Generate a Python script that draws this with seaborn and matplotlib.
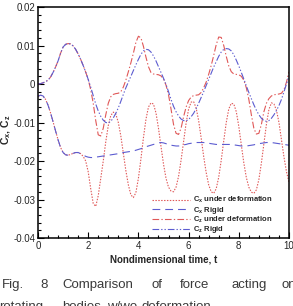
import numpy as np
import pandas as pd
import matplotlib
matplotlib.use("Agg")
import matplotlib.pyplot as plt
import seaborn as sns

# nondimensional time, sampled every 0.1
t = np.round(np.arange(0, 10.05, 0.1), 1)

cx_deform = [
    -0.0032, -0.0029, -0.0031, -0.0040, -0.0055, -0.0075, -0.0098, -0.0122, -0.0145, -0.0165,
    -0.0178, -0.0184, -0.0185, -0.0183, -0.0180, -0.0178, -0.0178, -0.0181, -0.0188, -0.0200,
    -0.0228, -0.0272, -0.0310, -0.0318, -0.0290, -0.0245, -0.0200, -0.0150, -0.0108, -0.0082,
    -0.0073, -0.0078, -0.0100, -0.0135, -0.0180, -0.0225, -0.0262, -0.0288, -0.0295, -0.0282,
    -0.0245, -0.0195, -0.0140, -0.0092, -0.0060, -0.0049, -0.0052, -0.0075, -0.0115, -0.0162,
    -0.0208, -0.0245, -0.0268, -0.0278, -0.0280, -0.0268, -0.0240, -0.0198, -0.0150, -0.0102,
    -0.0065, -0.0047, -0.0046, -0.0062, -0.0095, -0.0140, -0.0188, -0.0230, -0.0262, -0.0280,
    -0.0284, -0.0272, -0.0242, -0.0198, -0.0148, -0.0100, -0.0065, -0.0050, -0.0052, -0.0072,
    -0.0110, -0.0158, -0.0205, -0.0243, -0.0268, -0.0281, -0.0284, -0.0275, -0.0248, -0.0205,
    -0.0155, -0.0105, -0.0066, -0.0049, -0.0052, -0.0068, -0.0100, -0.0145, -0.0190, -0.0228,
    -0.0255,
]

cx_rigid = [
    -0.0032, -0.0029, -0.0031, -0.0040, -0.0055, -0.0075, -0.0098, -0.0122, -0.0145, -0.0165,
    -0.0178, -0.0184, -0.0185, -0.0183, -0.0180, -0.0178, -0.0178, -0.0181, -0.0184, -0.0188,
    -0.0190, -0.0191, -0.0191, -0.0190, -0.0189, -0.0188, -0.0187, -0.0186, -0.0185, -0.0184,
    -0.0183, -0.0182, -0.0181, -0.0180, -0.0178, -0.0177, -0.0176, -0.0175, -0.0174, -0.0172,
    -0.0170, -0.0168, -0.0166, -0.0163, -0.0161, -0.0159, -0.0157, -0.0155, -0.0153, -0.0152,
    -0.0153, -0.0155, -0.0157, -0.0159, -0.0160, -0.0161, -0.0161, -0.0160, -0.0158, -0.0157,
    -0.0155, -0.0154, -0.0153, -0.0152, -0.0152, -0.0152, -0.0152, -0.0153, -0.0154, -0.0155,
    -0.0156, -0.0157, -0.0157, -0.0157, -0.0157, -0.0157, -0.0157, -0.0157, -0.0158, -0.0159,
    -0.0160, -0.0161, -0.0161, -0.0161, -0.0160, -0.0159, -0.0158, -0.0156, -0.0155, -0.0154,
    -0.0153, -0.0152, -0.0152, -0.0152, -0.0153, -0.0154, -0.0155, -0.0156, -0.0157, -0.0158,
    -0.0159,
]

cz_deform = [
    0.0000, 0.0001, 0.0003, 0.0006, 0.0010, 0.0018, 0.0030, 0.0044, 0.0060, 0.0080,
    0.0096, 0.0103, 0.0105, 0.0104, 0.0099, 0.0090, 0.0078, 0.0064, 0.0048, 0.0031,
    0.0012, -0.0015, -0.0050, -0.0095, -0.0132, -0.0135, -0.0115, -0.0080, -0.0050, -0.0033,
    -0.0027, -0.0025, -0.0024, -0.0020, -0.0008, 0.0010, 0.0032, 0.0055, 0.0080, 0.0108,
    0.0124, 0.0120, 0.0098, 0.0070, 0.0045, 0.0030, 0.0026, 0.0025, 0.0024, 0.0021,
    0.0013, -0.0003, -0.0028, -0.0065, -0.0105, -0.0128, -0.0131, -0.0115, -0.0085, -0.0060,
    -0.0043, -0.0034, -0.0030, -0.0029, -0.0028, -0.0022, -0.0010, 0.0005, 0.0025, 0.0048,
    0.0074, 0.0102, 0.0122, 0.0121, 0.0100, 0.0072, 0.0047, 0.0032, 0.0026, 0.0025,
    0.0024, 0.0020, 0.0010, -0.0010, -0.0040, -0.0080, -0.0115, -0.0130, -0.0128, -0.0105,
    -0.0072, -0.0050, -0.0038, -0.0031, -0.0028, -0.0027, -0.0026, -0.0024, -0.0015, 0.0005,
    0.0032,
]

cz_rigid = [
    0.0000, 0.0001, 0.0003, 0.0006, 0.0010, 0.0018, 0.0030, 0.0044, 0.0060, 0.0080,
    0.0096, 0.0103, 0.0105, 0.0104, 0.0099, 0.0090, 0.0078, 0.0064, 0.0048, 0.0031,
    0.0012, -0.0008, -0.0030, -0.0052, -0.0070, -0.0084, -0.0094, -0.0100, -0.0101, -0.0097,
    -0.0088, -0.0076, -0.0062, -0.0045, -0.0027, -0.0010, 0.0005, 0.0020, 0.0035, 0.0050,
    0.0064, 0.0077, 0.0086, 0.0090, 0.0089, 0.0083, 0.0073, 0.0060, 0.0045, 0.0030,
    0.0015, -0.0001, -0.0020, -0.0040, -0.0058, -0.0072, -0.0083, -0.0091, -0.0095, -0.0096,
    -0.0092, -0.0085, -0.0076, -0.0064, -0.0050, -0.0035, -0.0020, -0.0004, 0.0012, 0.0028,
    0.0044, 0.0058, 0.0072, 0.0083, 0.0090, 0.0092, 0.0091, 0.0086, 0.0076, 0.0062,
    0.0047, 0.0030, 0.0013, -0.0005, -0.0022, -0.0038, -0.0054, -0.0068, -0.0080, -0.0089,
    -0.0095, -0.0097, -0.0095, -0.0089, -0.0080, -0.0069, -0.0056, -0.0040, -0.0020, 0.0000,
    0.0022,
]

labels = [r"C$_x$ under deformation", r"C$_x$ Rigid",
          r"C$_z$ under deformation", r"C$_z$ Rigid"]

sns.set_style("ticks")
plt.rcParams["font.family"] = ["Liberation Sans", "DejaVu Sans"]
plt.rcParams["mathtext.fontset"] = "custom"
plt.rcParams["mathtext.rm"] = "Liberation Sans:bold"
plt.rcParams["mathtext.default"] = "rm"

df = pd.DataFrame({"t": t, "cx_d": cx_deform, "cx_r": cx_rigid,
                   "cz_d": cz_deform, "cz_r": cz_rigid})

fig = plt.figure(figsize=(2.93, 3.06), dpi=100)
ax = fig.add_axes([38 / 293, 1 - 238 / 306, 251 / 293, 231 / 306])

red = "#e05858"
blue = "#5c5cd0"
lw = 0.8
sns.lineplot(data=df, x="t", y="cx_d", ax=ax, color=red, lw=lw,
             linestyle=(0, (1.3, 1.3)), label=labels[0])
sns.lineplot(data=df, x="t", y="cx_r", ax=ax, color=blue, lw=lw,
             linestyle=(0, (7, 4.5)), label=labels[1])
sns.lineplot(data=df, x="t", y="cz_d", ax=ax, color=red, lw=lw,
             linestyle=(0, (6, 2, 1.2, 2)), label=labels[2])
sns.lineplot(data=df, x="t", y="cz_r", ax=ax, color=blue, lw=lw,
             linestyle=(0, (6, 1.8, 1.2, 1.8, 1.2, 1.8)), label=labels[3])

ax.set_xlim(0, 10)
ax.set_ylim(-0.04, 0.02)
ax.set_xticks([0, 2, 4, 6, 8, 10])
ax.set_xticklabels(["0", "2", "4", "6", "8", "10"])
ax.set_yticks([-0.04, -0.03, -0.02, -0.01, 0, 0.01, 0.02])
ax.set_yticklabels(["-0.04", "-0.03", "-0.02", "-0.01", "0", "0.01", "0.02"])
ax.set_xticks(np.arange(0, 10.01, 0.4), minor=True)
ax.set_yticks(np.arange(-0.04, 0.0201, 0.002), minor=True)
ax.tick_params(which="both", direction="in", top=False, right=False,
               labelsize=7, pad=2, width=0.8, color="black")
ax.tick_params(which="major", length=4.5)
ax.tick_params(which="minor", length=2.5)
for s in ax.spines.values():
    s.set_linewidth(1.1)
    s.set_color("black")

ax.set_xlabel("Nondimensional time, t", fontsize=7, fontweight="bold", labelpad=3)
ax.set_ylabel(r"C$_x$, C$_z$", fontsize=7.5, fontweight="bold")
ax.yaxis.set_label_coords(-0.1, 0.47)

leg = ax.legend(loc="upper left", bbox_to_anchor=(0.454, 0.185), frameon=False,
                prop={"size": 5.5, "weight": "bold"}, handlelength=5.0,
                handletextpad=0.4, labelspacing=-0.1, borderpad=0, borderaxespad=0)

cap = dict(fontsize=9.5, color="#3a3a3a", va="baseline", ha="left")
words1 = [("Fig.", 2), ("8", 40), ("Comparison", 62), ("of", 152),
          ("force", 180), ("acting", 232), ("on", 282)]
for w, x in words1:
    fig.text(x / 293, 1 - 288 / 306, w, **cap)
words2 = [("rotating", -1), ("bodies", 62), ("w/wo", 107), ("deformation", 141)]
for w, x in words2:
    fig.text(x / 293, 1 - 310 / 306, w, **cap)

fig.savefig("out.png", dpi=100)
